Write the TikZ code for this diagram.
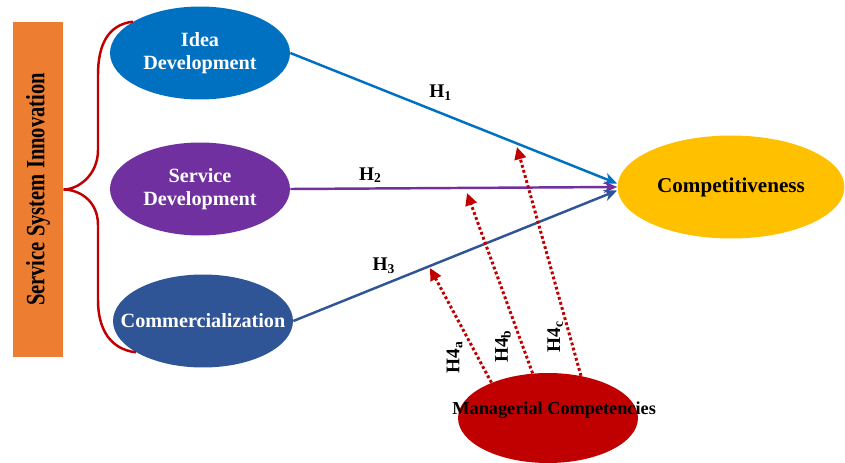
\documentclass[tikz,border=0pt]{standalone}
\usepackage{fontspec}
\setmainfont{Liberation Serif}
\newfontfamily\narrowserif[FakeStretch=0.78]{Liberation Serif}
\usetikzlibrary{shapes.geometric,arrows.meta}

\definecolor{sysorange}{HTML}{ED7D31}
\definecolor{ideablue}{HTML}{0070C0}
\definecolor{servpurple}{HTML}{7030A0}
\definecolor{commblue}{HTML}{2F5597}
\definecolor{compgold}{HTML}{FFC000}
\definecolor{mcred}{HTML}{C00000}

\begin{document}
\begin{tikzpicture}[
    x=0.02cm, y=-0.02cm,
    factor/.style={ellipse, inner sep=0pt, minimum width=3.6cm, minimum height=1.86cm, text=white, align=center, font=\fontsize{11.5}{13}\selectfont\bfseries},
    link/.style={-{Stealth[length=7.5pt,width=6.5pt]}, line width=1.4pt},
    moderate/.style={-{Triangle[length=7pt,width=6.5pt]}, draw=mcred, line width=1.7pt, dash pattern=on 1.6pt off 1.4pt},
    hyp/.style={font=\fontsize{11}{12}\selectfont\bfseries, inner sep=1pt}
]
    \useasboundingbox (0,0) rectangle (845,463);

    % construct box and its dimensions
    \node [fill=sysorange, rotate=90, minimum width=6.7cm, minimum height=1cm, inner sep=0pt, font=\narrowserif\fontsize{15}{16}\selectfont\bfseries] (ssi) at (38,189.5) {Service System Innovation};
    \node [factor, fill=ideablue] (idea) at (200,53) {Idea\\Development};
    \node [factor, fill=servpurple] (serv) at (200,189) {Service\\Development};
    \node [factor, fill=commblue, inner xsep=-13pt] (comm) at (203,321) {Commercialization};

    \node [ellipse, fill=compgold, inner sep=0pt, minimum width=4.54cm, minimum height=2.06cm, font=\fontsize{12}{13}\selectfont\bfseries] (comp) at (731,187) {Competitiveness};
    \node [ellipse, fill=mcred, inner sep=0pt, minimum width=3.6cm, minimum height=1.8cm,
           label={[font=\fontsize{10.4}{11}\selectfont\bfseries, xshift=3.5pt, yshift=4.5pt]center:Managerial Competencies}] (manag) at (548,418) {};

    % brace
    \draw [mcred, line width=1.4pt] (idea.155) .. controls +(-25,3) and +(0,-30) .. (98,75) -- (98,150)
        .. controls +(0,25) and +(15,0) .. (ssi.south)
        .. controls +(15,0) and +(0,-25) .. (98,225) -- (98,300)
        .. controls +(0,30) and +(-25,-3) .. (comm.205);

    % direct effects
    \draw [link, draw=ideablue] (idea.east) -- ([yshift=2pt]comp.west) node [hyp, pos=0.46, above=5.5pt] {H\textsubscript{1}};
    \draw [link, draw=servpurple] (serv.east) -- (comp.west) node [hyp, pos=0.245, above=1.5pt] {H\textsubscript{2}};
    \draw [link, draw=commblue] (comm.east) -- ([yshift=-2pt]comp.west) node [hyp, pos=0.28, above=4.5pt] {H\textsubscript{3}};

    % moderation
    \coordinate (h4a) at (430,268);
    \coordinate (h4b) at (467,193);
    \coordinate (h4c) at (517,147);
    \draw [moderate] (manag.148) -- (h4a) node [hyp, pos=0.22, xshift=-13.3pt, rotate=90] {H4\textsubscript{a}};
    \draw [moderate] (manag.109) -- (h4b) node [hyp, pos=0.15, xshift=-11.3pt, rotate=90] {H4\textsubscript{b}};
    \draw [moderate] (manag.52) -- (h4c) node [hyp, pos=0.17, xshift=-8.5pt, rotate=90] {H4\textsubscript{c}};

\end{tikzpicture}
\end{document}
